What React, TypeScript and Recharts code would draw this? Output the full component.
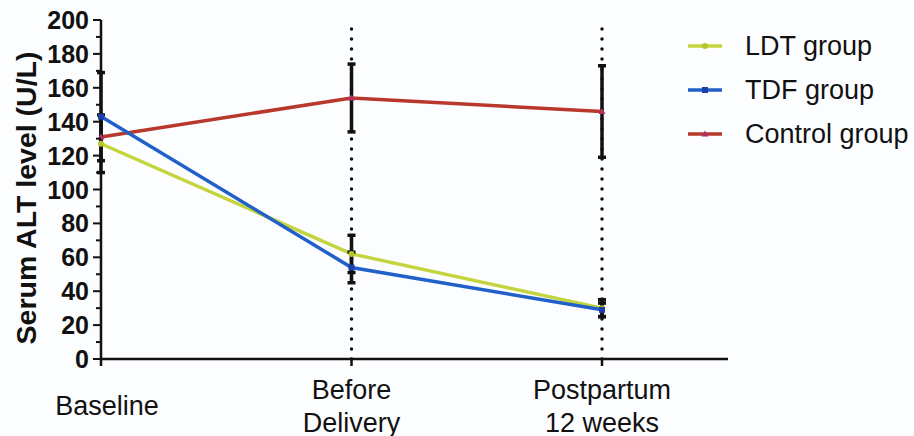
import { LineChart, Line, XAxis, YAxis, ErrorBar, ReferenceLine, Legend } from 'recharts'

const CATEGORIES = ['Baseline', 'Before\nDelivery', 'Postpartum\n12 weeks']
const LDT = [127, 62, 30]
const LDT_ERR = [17, 11, 5]
const TDF = [143, 54, 29]
const TDF_ERR = [26, 9, 4]
const CONTROL = [131, 154, 146]
const CONTROL_ERR = [0, 20, 27]
const Y_TICKS = [0, 10, 20, 30, 40, 50, 60, 70, 80, 90, 100, 110, 120, 130, 140, 150, 160, 170, 180, 190, 200]

const FONT = '"Liberation Sans", Arial, sans-serif'
const AXIS_X = 101

const SERIES = [
  { key: 'ldt', name: 'LDT group', color: '#c4d43e', mark: '#b5c52c', shape: 'circle' },
  { key: 'tdf', name: 'TDF group', color: '#2160c9', mark: '#1f3fa8', shape: 'square' },
  { key: 'control', name: 'Control group', color: '#b8392c', mark: '#b02e6a', shape: 'triangle' },
]

const data = CATEGORIES.map((cat, i) => ({
  cat,
  ldt: LDT[i],
  ldtErr: LDT_ERR[i],
  tdf: TDF[i],
  tdfErr: TDF_ERR[i],
  control: CONTROL[i],
  controlErr: CONTROL_ERR[i],
}))

function marker(shape: string, fill: string, cx: number, cy: number, key?: string) {
  if (shape === 'square') return <rect key={key} x={cx - 3} y={cy - 3} width={6} height={6} fill={fill} />
  if (shape === 'triangle')
    return <polygon key={key} points={`${cx},${cy - 3.5} ${cx + 3.5},${cy + 2.5} ${cx - 3.5},${cy + 2.5}`} fill={fill} />
  return <circle key={key} cx={cx} cy={cy} r={3} fill={fill} />
}

const makeDot = (shape: string, fill: string) => (props: any) =>
  marker(shape, fill, props.cx, props.cy, `${props.dataKey}-${props.index}`)

function YTick(props: any) {
  const { y, payload } = props
  const v = payload.value
  const major = v % 20 === 0
  return (
    <g>
      <line x1={AXIS_X - (major ? 8 : 5)} x2={AXIS_X} y1={y} y2={y} stroke="#111" strokeWidth={2} />
      {major && (
        <text x={AXIS_X - 12} y={y} textAnchor="end" dominantBaseline="central" fontSize={25} fontWeight="bold" fill="#111" fontFamily={FONT}>
          {v}
        </text>
      )}
    </g>
  )
}

function XTick(props: any) {
  const { x, payload, index } = props
  const lines = String(payload.value).split('\n')
  const center = 406
  // the first label sits a little right of the y axis in the original
  const shift = index === 0 ? 6 : 0
  return (
    <g>
      {lines.map((l, i) => (
        <text key={i} x={x + shift} y={center + (i - (lines.length - 1) / 2) * 33} textAnchor="middle" dominantBaseline="central" fontSize={27} fill="#111" fontFamily={FONT}>
          {l}
        </text>
      ))}
    </g>
  )
}

function LegendContent() {
  return (
    <div style={{ fontFamily: FONT }}>
      {SERIES.map((s) => (
        <svg key={s.key} width={240} height={44} style={{ display: 'block' }}>
          <line x1={8} x2={42} y1={22} y2={22} stroke={s.color} strokeWidth={3.5} />
          {marker(s.shape, s.mark, 25, 22)}
          <text x={65} y={22} dominantBaseline="central" fontSize={27} fill="#111" fontFamily={FONT}>
            {s.name}
          </text>
        </svg>
      ))}
    </div>
  )
}

export default function App() {
  return (
    <div style={{ position: 'absolute', left: 0, top: 0, width: 914, height: 436, background: '#fcfdff' }}>
      <LineChart width={914} height={436} data={data} margin={{ top: 20, right: 186, bottom: 47, left: 0 }}>
        <XAxis
          dataKey="cat"
          height={30}
          axisLine={{ stroke: '#111', strokeWidth: 2.5 }}
          tickLine={{ stroke: '#111', strokeWidth: 2.5 }}
          tickSize={7}
          tick={<XTick />}
          padding={{ left: 0, right: 126 }}
          interval={0}
        />
        <YAxis
          width={101}
          domain={[0, 200]}
          ticks={Y_TICKS}
          interval={0}
          tickLine={false}
          axisLine={{ stroke: '#111', strokeWidth: 2.5 }}
          tick={<YTick />}
          label={{
            content: () => (
              <text transform="translate(26,198) rotate(-90)" textAnchor="middle" dominantBaseline="central" fontSize={28.5} fontWeight="bold" fill="#111" fontFamily={FONT}>
                Serum ALT level (U/L)
              </text>
            ),
          }}
        />
        <ReferenceLine x={CATEGORIES[1]} stroke="#111" strokeWidth={3.5} strokeDasharray="0 10" strokeLinecap="round" />
        <ReferenceLine x={CATEGORIES[2]} stroke="#111" strokeWidth={3.5} strokeDasharray="0 10" strokeLinecap="round" />
        <Legend layout="vertical" align="center" verticalAlign="middle" wrapperStyle={{ left: 680, top: 24, width: 240 }} content={<LegendContent />} />
        <Line dataKey="control" name="Control group" stroke={SERIES[2].color} strokeWidth={3.5} dot={makeDot('triangle', SERIES[2].mark)} isAnimationActive={false}>
          <ErrorBar dataKey="controlErr" stroke="#111" strokeWidth={3.5} width={4} />
        </Line>
        <Line dataKey="ldt" name="LDT group" stroke={SERIES[0].color} strokeWidth={3.5} dot={makeDot('circle', SERIES[0].mark)} isAnimationActive={false}>
          <ErrorBar dataKey="ldtErr" stroke="#111" strokeWidth={3.5} width={4} />
        </Line>
        <Line dataKey="tdf" name="TDF group" stroke={SERIES[1].color} strokeWidth={3.5} dot={makeDot('square', SERIES[1].mark)} isAnimationActive={false}>
          <ErrorBar dataKey="tdfErr" stroke="#111" strokeWidth={3.5} width={4} />
        </Line>
      </LineChart>
    </div>
  )
}
